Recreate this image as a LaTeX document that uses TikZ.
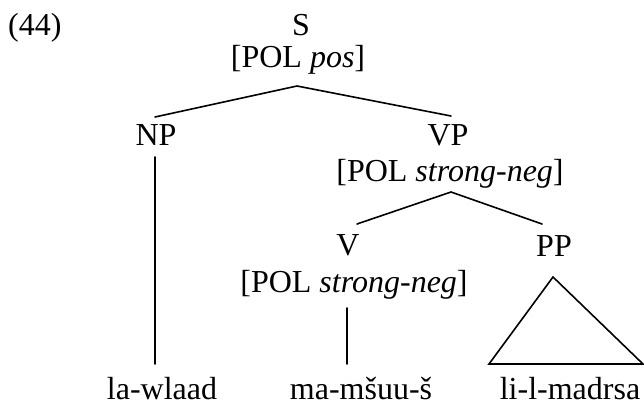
\documentclass[tikz,border=0pt]{standalone}
\usepackage{fontspec}
\setmainfont{Liberation Serif}
\begin{document}
\begin{tikzpicture}[x=1pt,y=-1pt,
  lbl/.style={anchor=base,inner sep=0pt,font=\fontsize{32}{38}\selectfont},
  branch/.style={line width=1.6pt,line cap=round}]
\useasboundingbox (0,0) rectangle (644,404);

% example number
\node[lbl,anchor=base west] (num) at (8,36) {(44)};

% category labels and features
\node[lbl] (S)    at (301,36)  {S};
\node[lbl] (Sf)   at (298,67)  {[POL \textit{pos}]};
\node[lbl] (NP)   at (156,145) {NP};
\node[lbl] (VP)   at (448,145) {VP};
\node[lbl] (VPf)  at (450,181) {[POL \textit{strong-neg}]};
\node[lbl] (V)    at (348,255) {V};
\node[lbl] (PP)   at (554,256) {PP};
\node[lbl] (Vf)   at (354,292) {[POL \textit{strong-neg}]};

% terminals
\node[lbl] (w1) at (162,399) {la-wlaad};
\node[lbl] (w2) at (361,399) {ma-mšuu-š};
\node[lbl] (w3) at (570,399) {li-l-madrsa};

% branch end points
\coordinate (Stop)  at (297,86);
\coordinate (NPtop) at (155,117);
\coordinate (VPtop) at (451,116);
\coordinate (VPbot) at (451,192);
\coordinate (Vtop)  at (357,224);
\coordinate (PPtop) at (542,224);
\coordinate (NPbot) at (155,157);
\coordinate (w1top) at (155,364);
\coordinate (Vbot)  at (347,308);
\coordinate (w2top) at (347,364);
\coordinate (PPbot) at (553,277);
\coordinate (triL)  at (489,364);
\coordinate (triR)  at (643,364);

% branches
\draw[branch] (NPtop) -- (Stop) -- (VPtop);
\draw[branch] (Vtop) -- (VPbot) -- (PPtop);
\draw[branch] (NPbot) -- (w1top);
\draw[branch] (Vbot) -- (w2top);
\draw[branch,line join=miter] (PPbot) -- (triL) -- (triR) -- cycle;
\end{tikzpicture}
\end{document}
